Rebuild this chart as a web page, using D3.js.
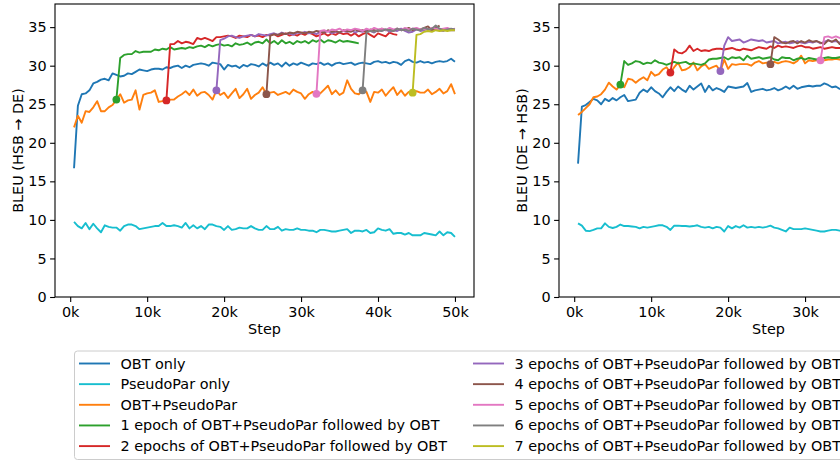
<!DOCTYPE html>
<html>
<head>
<meta charset="utf-8">
<script src="https://cdn.jsdelivr.net/npm/d3@7"></script>
<style>
  body { margin: 0; background: #fff; }
  svg { display: block; font-family: "DejaVu Sans", sans-serif; }
</style>
</head>
<body>
<svg id="vis" width="840" height="461"></svg>
<script>
// validation every 500 steps
const steps = d3.range(500, 50001, 500);
// step at which each "n epochs of OBT+PseudoPar" run switches to OBT
const epochStarts = [6000, 12500, 19000, 25500, 32000, 38000, 44500];
const xTicks = [0, 10000, 20000, 30000, 40000, 50000];
const yTicks = [0, 5, 10, 15, 20, 25, 30, 35];

const seriesNames = [
  "OBT only",
  "PseudoPar only",
  "OBT+PseudoPar",
  "1 epoch of OBT+PseudoPar followed by OBT",
  "2 epochs of OBT+PseudoPar followed by OBT",
  "3 epochs of OBT+PseudoPar followed by OBT",
  "4 epochs of OBT+PseudoPar followed by OBT",
  "5 epochs of OBT+PseudoPar followed by OBT",
  "6 epochs of OBT+PseudoPar followed by OBT",
  "7 epochs of OBT+PseudoPar followed by OBT"
];

// HSB -> DE
const hsbDeObt = [
  16.7, 24.8, 26.3, 26.4, 26.8, 27.7, 27.9, 28.2, 28.3, 28.1,
  29.0, 28.8, 28.6, 28.7, 29.0, 28.9, 29.2, 29.5, 29.4, 29.3,
  29.5, 29.6, 29.6, 29.5, 29.8, 29.7, 29.9, 30.0, 29.7, 30.0,
  29.8, 30.1, 30.2, 30.3, 30.2, 30.0, 30.4, 30.3, 30.2, 29.5,
  30.1, 29.9, 30.0, 29.7, 30.1, 29.9, 30.2, 30.1, 29.9, 30.3,
  30.0, 30.4, 30.1, 30.3, 29.9, 30.4, 30.0, 30.3, 30.1, 30.4,
  30.2, 30.0, 30.3, 30.2, 30.4, 30.1, 30.3, 30.0, 30.3, 30.4,
  30.2, 30.3, 30.4, 30.1, 30.3, 30.4, 30.3, 30.2, 30.5, 30.6,
  30.4, 30.5, 30.3, 30.5, 30.4, 30.1, 30.6, 30.8, 30.5, 30.4,
  30.6, 30.4, 30.5, 30.3, 30.5, 30.6, 30.5, 30.6, 30.9, 30.5
];
const hsbDePseudo = [
  9.75, 9.2, 8.9, 9.6, 8.8, 9.5, 8.9, 8.4, 9.3, 9.1,
  9.0, 9.0, 8.6, 9.2, 9.4, 9.4, 9.2, 8.8, 8.9, 9.0,
  9.1, 9.2, 9.2, 9.6, 9.2, 9.2, 9.3, 9.2, 9.0, 9.6,
  8.9, 9.3, 8.9, 9.2, 8.8, 9.4, 9.4, 9.2, 9.1, 8.7,
  9.2, 8.7, 8.8, 9.0, 8.9, 8.9, 9.2, 8.9, 8.7, 8.7,
  9.2, 8.8, 8.8, 9.1, 8.6, 8.8, 8.7, 8.7, 8.9, 8.7,
  8.7, 8.6, 8.6, 8.4, 8.7, 8.7, 8.6, 8.5, 8.5, 8.6,
  8.7, 8.8, 8.3, 8.6, 8.6, 8.5, 8.7, 8.3, 8.4, 8.9,
  8.7, 8.6, 8.8, 8.2, 8.3, 8.3, 8.1, 8.3, 8.0, 8.0,
  8.0, 8.3, 8.2, 8.1, 8.0, 8.5, 8.0, 8.4, 8.3, 7.8
];
const hsbDeMixed = [
  22.0, 23.5, 22.6, 24.1, 24.0, 24.6, 25.4, 24.1, 24.1, 24.6,
  24.9, 25.6, 26.3, 25.2, 25.5, 25.6, 26.8, 24.3, 26.2, 26.4,
  26.5, 26.8, 25.3, 25.4, 25.5, 25.6, 25.6, 26.0, 26.3, 26.7,
  26.2, 26.9, 26.1, 26.5, 26.6, 26.2, 25.6, 26.8, 26.2, 26.5,
  25.8, 26.4, 27.0, 25.8, 26.3, 27.0, 25.7, 26.2, 26.5, 27.2,
  26.3, 26.5, 26.6, 26.2, 26.4, 26.6, 26.3, 26.9, 26.6, 26.4,
  25.7, 26.3, 26.6, 26.35, 26.4, 26.9, 27.4, 26.3, 26.8, 26.2,
  26.5, 28.1, 27.0, 26.4, 26.3, 26.8, 26.6, 25.3, 26.6, 26.5,
  26.9, 26.1, 26.7, 27.2, 26.2, 26.8, 26.1, 26.6, 26.5, 26.7,
  26.5, 26.5, 26.9, 26.3, 26.6, 27.0, 26.4, 26.7, 27.6, 26.3
];
const hsbDeEp1 = [
  25.6, 31.0, 31.4, 31.5, 31.5, 31.9, 31.7, 31.8, 31.8, 31.8,
  32.1, 32.0, 32.2, 32.1, 32.4, 32.1, 32.2, 32.3, 32.2, 32.4,
  32.3, 32.5, 32.6, 32.4, 32.7, 32.5, 32.7, 32.8, 32.6, 32.7,
  32.5, 32.9, 32.7, 32.8, 33.0, 32.7, 33.0, 33.1, 32.9, 33.4,
  32.9, 33.2, 32.8, 33.3, 32.9, 33.1, 32.8, 33.2, 33.0, 33.2,
  32.9, 33.3, 33.1, 33.4, 33.0, 33.3, 33.2, 33.0, 33.3, 33.1,
  33.2, 33.1, 33.0, 32.9
];
const hsbDeEp2 = [
  25.5, 32.8, 32.8, 33.2, 32.9, 33.1, 33.0, 32.8, 33.6, 33.4,
  33.6, 33.4, 33.2, 33.7, 33.7, 33.8, 33.9, 33.8, 33.6, 33.9,
  33.8, 33.7, 34.0, 33.8, 33.9, 33.7, 34.0, 33.9, 34.1, 33.8,
  34.0, 34.2, 33.9, 34.1, 33.9, 34.2, 34.0, 34.3, 34.1, 33.8,
  34.0, 34.2, 33.9, 34.2, 34.0, 34.3, 34.1, 34.2, 33.9, 34.2,
  33.8, 34.1, 34.3, 34.0, 33.7, 34.2, 34.0, 33.8, 34.3, 34.1,
  34.0
];
const hsbDeEp3 = [
  26.8, 33.3, 33.5, 33.8, 33.9, 33.7, 33.6, 33.8, 33.9, 34.0,
  33.8, 34.1, 34.0, 33.9, 34.1, 34.2, 34.0, 34.3, 34.1, 34.2,
  34.0, 34.3, 34.2, 34.4, 34.2, 34.3, 34.1, 34.4, 34.3, 34.5,
  34.2, 34.4, 34.3, 34.5, 34.4, 34.6, 34.3, 34.5, 34.4, 34.6,
  34.5, 34.3, 34.6, 34.5, 34.7, 34.4, 34.6, 34.5, 34.8, 34.5,
  34.3, 34.4, 34.7, 34.5, 34.6, 34.8, 34.5, 34.7, 34.6, 34.5,
  34.7, 34.6, 34.6
];
const hsbDeEp4 = [
  26.3, 33.9, 34.1, 34.0, 34.2, 34.1, 34.3, 34.2, 34.4, 34.3,
  34.2, 34.4, 34.3, 34.5, 34.4, 34.3, 34.6, 34.4, 34.5, 34.3,
  34.6, 34.5, 34.4, 34.7, 34.5, 34.6, 34.4, 34.7, 34.6, 34.5,
  34.8, 34.6, 34.7, 34.5, 34.8, 34.6, 34.7, 34.9, 34.6, 34.8,
  34.7, 34.9, 35.1, 34.6, 34.9, 35.2
];
const hsbDeEp5 = [
  26.35, 34.5, 34.6, 34.4, 34.7, 34.6, 34.8, 34.5, 34.7, 34.6,
  34.8, 34.7, 34.5, 34.8, 34.6, 34.9, 34.7, 34.8, 34.6, 34.9,
  34.7, 34.8, 34.6, 34.9, 34.7, 34.8, 34.9, 34.7, 34.8, 34.6,
  34.9, 34.8, 34.7, 34.8, 34.9, 34.7, 34.8
];
const hsbDeEp6 = [
  26.8, 34.3, 34.5, 34.4, 34.6, 34.5, 34.7, 34.6, 34.5, 34.8,
  34.6, 34.7, 34.5, 34.8, 34.7, 34.6, 34.9, 34.7, 34.8, 35.2,
  34.8, 34.6, 34.7, 34.8, 34.7
];
const hsbDeEp7 = [26.5, 34.0, 34.1, 34.4, 34.5, 34.4, 34.6, 34.5, 34.6, 34.5, 34.6, 34.6];

// DE -> HSB (only the part inside the picture)
const deHsbObt = [
  17.3, 24.7, 24.9, 25.3, 25.7, 25.5, 25.0, 25.7, 25.4, 25.8,
  25.5, 25.9, 26.2, 25.4, 25.5, 25.6, 26.5, 26.9, 26.6, 27.2,
  26.7, 26.4, 25.9, 26.6, 27.2, 26.7, 27.3, 26.9, 26.6, 27.4,
  26.9, 27.3, 27.7, 26.6, 27.4, 26.8, 27.1, 26.9, 26.6, 27.3,
  27.2, 27.1, 27.2, 27.3, 27.75, 26.6, 26.8, 26.9, 27.0, 26.8,
  26.9, 27.1, 26.8, 27.0, 27.3, 27.0, 27.4, 27.0, 27.2, 27.3,
  27.4, 27.3, 27.4, 27.4, 27.7, 27.5, 27.2, 27.3, 27.0, 26.9
];
const deHsbPseudo = [
  9.55, 9.25, 8.6, 8.55, 8.7, 8.9, 8.9, 9.55, 9.1, 8.95,
  9.1, 9.4, 9.2, 9.2, 9.15, 9.1, 8.9, 9.1, 9.0, 9.1,
  9.2, 9.3, 9.3, 9.1, 8.7, 9.25, 9.25, 9.2, 9.2, 9.15,
  9.2, 9.3, 9.1, 9.0, 9.1, 8.9, 9.1, 9.0, 8.5, 9.2,
  8.9, 9.2, 9.0, 9.3, 9.0, 9.1, 9.0, 9.1, 9.0, 9.1,
  9.25, 9.0, 8.9, 8.7, 8.5, 9.0, 8.8, 8.8, 8.8, 8.9,
  8.8, 8.7, 8.6, 8.5, 8.5, 8.6, 8.7, 8.7, 8.6, 8.7
];
const deHsbMixed = [
  23.6, 24.0, 24.5, 25.0, 25.9, 26.0, 26.3, 26.9, 27.8, 27.3,
  26.9, 27.55, 27.2, 28.3, 28.2, 27.8, 28.2, 28.5, 28.1, 29.2,
  28.7, 28.9, 29.5, 29.8, 29.1, 29.8, 30.4, 29.4, 29.5, 29.8,
  30.4, 29.4, 29.9, 30.2, 29.6, 29.8, 30.0, 29.3, 30.8, 29.6,
  30.2, 30.1, 30.2, 30.2, 30.2, 30.0, 30.4, 30.6, 30.3, 30.4,
  30.2, 30.5, 30.3, 30.5, 30.6, 30.5, 30.3, 30.6, 31.3, 30.3,
  30.7, 30.6, 30.7, 30.7, 30.7, 30.8, 30.8, 30.9, 30.8, 30.8
];
const deHsbEp1 = [
  27.55, 30.6, 30.1, 30.3, 30.6, 30.5, 30.2, 30.4, 30.3, 30.7,
  30.4, 30.3, 30.1, 30.3, 30.5, 30.3, 30.4, 30.5, 30.2, 30.3,
  30.2, 30.1, 30.3, 30.8, 30.9, 30.9, 31.0, 31.1, 30.8, 31.1,
  31.0, 31.1, 30.7, 31.3, 30.9, 31.0, 31.1, 30.9, 31.0, 31.1,
  30.8, 30.7, 31.1, 31.0, 31.0, 30.7, 30.9, 31.0, 30.8, 31.0,
  30.9, 30.8, 30.9, 31.0, 31.1, 31.0, 31.0, 31.1, 31.0
];
const deHsbEp2 = [
  29.1, 32.1, 31.7, 31.6, 31.9, 32.6, 31.9, 32.2, 31.9, 32.0,
  31.9, 32.1, 32.2, 32.2, 32.1, 32.2, 32.3, 32.1, 32.0, 32.2,
  32.1, 32.0, 32.2, 32.4, 32.3, 32.2, 32.5, 32.3, 32.6, 32.4,
  32.5, 32.4, 32.3, 32.5, 32.6, 32.4, 32.4, 32.2, 32.3, 32.4,
  32.2, 32.3, 32.4, 32.3, 32.3, 32.2
];
const deHsbEp3 = [
  29.3, 32.6, 33.7, 33.2, 33.3, 33.4, 33.0, 33.2, 33.4, 33.3,
  33.2, 33.3, 33.0, 33.1, 33.2, 32.9, 33.0, 33.1, 32.9, 33.0,
  33.2, 33.0, 32.9, 33.1, 33.0, 33.2, 32.9, 33.1, 33.3, 33.1,
  33.2, 33.0, 33.1
];
const deHsbEp4 = [
  30.2, 33.7, 33.4, 33.0, 32.9, 33.1, 33.2, 32.9, 33.2, 33.0,
  33.3, 33.1, 33.2, 33.0, 32.8, 33.3, 33.1, 33.4, 32.8, 33.0
];
const deHsbEp5 = [30.7, 33.7, 33.8, 33.6, 33.8, 33.6, 33.7];

const colors = ["#1f77b4", "#17becf", "#ff7f0e", "#2ca02c", "#d62728",
                "#9467bd", "#8c564b", "#e377c2", "#7f7f7f", "#bcbd22"];

const plotTop = 4, plotBottom = 297, plotWidth = 419;
const viewWidth = 840;
const fontSize = "14.4px";

translate = function(a, b) {
  return "translate(" + a + ", " + b + ")";
}

const panels = [
  { left: 55, label: "BLEU (HSB \u2192 DE)",
    base: [hsbDeObt, hsbDePseudo, hsbDeMixed],
    follow: [hsbDeEp1, hsbDeEp2, hsbDeEp3, hsbDeEp4, hsbDeEp5, hsbDeEp6, hsbDeEp7] },
  { left: 559, label: "BLEU (DE \u2192 HSB)",
    base: [deHsbObt, deHsbPseudo, deHsbMixed],
    follow: [deHsbEp1, deHsbEp2, deHsbEp3, deHsbEp4, deHsbEp5] }
];

const svg = d3.select("#vis");

drawPanel = function(p) {
  const x = d3.scaleLinear().domain([-1975, 52475]).range([p.left, p.left + plotWidth]);
  const y = d3.scaleLinear().domain([0, 38]).range([plotBottom, plotTop]);
  const g = svg.append("g");

  const line = d3.line()
    .x(function(d) { return x(d[0]); })
    .y(function(d) { return y(d[1]); });

  // base runs
  p.base.forEach(function(vals, i) {
    g.append("path")
      .datum(vals.map(function(v, j) { return [steps[j], v]; }))
      .attr("d", line)
      .attr("fill", "none")
      .attr("stroke", colors[i])
      .attr("stroke-width", 1.9)
      .attr("stroke-linejoin", "round");
  });

  // runs switching to OBT after n epochs
  p.follow.forEach(function(vals, k) {
    const pts = vals.map(function(v, j) { return [epochStarts[k] + j * 500, v]; });
    g.append("path")
      .datum(pts)
      .attr("d", line)
      .attr("fill", "none")
      .attr("stroke", colors[k + 3])
      .attr("stroke-width", 1.9)
      .attr("stroke-linejoin", "round");
    g.append("circle")
      .attr("cx", x(pts[0][0]))
      .attr("cy", y(pts[0][1]))
      .attr("r", 3.9)
      .attr("fill", colors[k + 3]);
  });

  // axes (ticks that fall outside the cropped figure are left out)
  const visibleX = xTicks.filter(function(d) { return x(d) + 15 < viewWidth; });
  const xAxis = g.append("g")
    .attr("transform", translate(0, plotBottom))
    .call(d3.axisBottom(x).tickValues(visibleX)
      .tickFormat(function(d) { return (d / 1000) + "k"; })
      .tickSize(4.9).tickPadding(4.6));
  const yAxis = g.append("g")
    .attr("transform", translate(p.left, 0))
    .call(d3.axisLeft(y).tickValues(yTicks).tickSize(4.9).tickPadding(3.5));

  [xAxis, yAxis].forEach(function(a) {
    a.attr("font-family", null).attr("font-size", null);
    a.select(".domain").remove();
    a.selectAll("line").attr("stroke", "#000").attr("stroke-width", 1.1);
    a.selectAll("text").attr("fill", "#000").style("font-size", fontSize);
  });

  g.append("rect")
    .attr("x", p.left).attr("y", plotTop)
    .attr("width", plotWidth).attr("height", plotBottom - plotTop)
    .attr("fill", "none").attr("stroke", "#000").attr("stroke-width", 1.1);

  g.append("text")
    .attr("x", p.left + plotWidth / 2).attr("y", 334)
    .attr("text-anchor", "middle")
    .style("font-size", fontSize)
    .text("Step");

  g.append("text")
    .attr("transform", translate(p.left - 32, (plotTop + plotBottom) / 2) + " rotate(-90)")
    .attr("text-anchor", "middle")
    .style("font-size", fontSize)
    .text(p.label);
}

panels.forEach(drawPanel);

// legend
const legend = svg.append("g");
legend.append("rect")
  .attr("x", 74.5).attr("y", 351)
  .attr("width", 900).attr("height", 108.5)
  .attr("rx", 3).attr("ry", 3)
  .attr("fill", "#fff").attr("fill-opacity", 0.8)
  .attr("stroke", "#cccccc").attr("stroke-width", 1);

seriesNames.forEach(function(name, i) {
  const col = Math.floor(i / 5), row = i % 5;
  const lx = col == 0 ? 79 : 473;
  const ly = 363.5 + row * 20.65;
  legend.append("line")
    .attr("x1", lx).attr("x2", lx + 31)
    .attr("y1", ly).attr("y2", ly)
    .attr("stroke", colors[i]).attr("stroke-width", 1.9);
  legend.append("text")
    .attr("x", lx + 41.5).attr("y", ly)
    .attr("dy", "0.35em")
    .style("font-size", fontSize)
    .text(name);
});
</script>
</body>
</html>
